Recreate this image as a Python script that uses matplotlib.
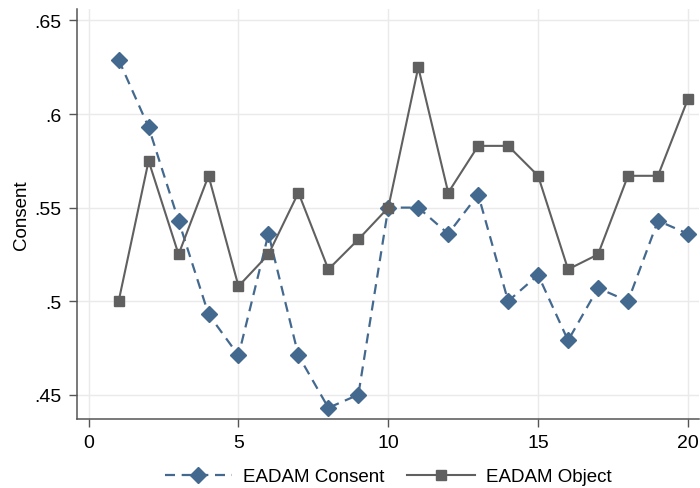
import numpy as np
import matplotlib
matplotlib.use("Agg")
import matplotlib.pyplot as plt
from matplotlib.ticker import FuncFormatter

plt.rcParams["font.family"] = ["Liberation Sans", "DejaVu Sans"]

rounds = np.arange(1, 21)
consent = [0.629, 0.593, 0.543, 0.493, 0.471, 0.536, 0.471, 0.443, 0.450, 0.550,
           0.550, 0.536, 0.557, 0.500, 0.514, 0.479, 0.507, 0.500, 0.543, 0.536]
obj = [0.500, 0.575, 0.525, 0.567, 0.508, 0.525, 0.558, 0.517, 0.533, 0.550,
       0.625, 0.558, 0.583, 0.583, 0.567, 0.517, 0.525, 0.567, 0.567, 0.608]

xticks = [0, 5, 10, 15, 20]
yticks = [0.45, 0.5, 0.55, 0.6, 0.65]

fig = plt.figure(figsize=(7, 4.89), dpi=100)
ax = fig.add_axes([0.11, 0.141, 0.889, 0.838])

blue = "#44698f"
grey = "#606060"

ax.plot(rounds, consent, color=blue, ls=(0, (4.5, 3)), lw=1.6, marker="D",
        ms=8, mec=blue, mfc=blue, label="EADAM Consent", zorder=3)
ax.plot(rounds, obj, color=grey, ls="-", lw=1.5, marker="s",
        ms=7.5, mec=grey, mfc=grey, label="EADAM Object", zorder=3)

ax.set_xlim(-0.39, 20.38)
ax.set_ylim(0.437, 0.656)
ax.set_xticks(xticks)
ax.set_yticks(yticks)
ax.yaxis.set_major_formatter(FuncFormatter(lambda v, p: ("%g" % v).lstrip("0")))
ax.grid(True, color="#eaeaea", lw=1.0, zorder=0)
ax.set_axisbelow(True)

for s in ["top", "right"]:
    ax.spines[s].set_visible(False)
for s in ["left", "bottom"]:
    ax.spines[s].set_color("#555555")
    ax.spines[s].set_linewidth(1.1)
ax.tick_params(direction="out", length=6, width=1, color="#555555",
               labelsize=14, pad=5)
ax.set_ylabel("Consent", fontsize=13.5)
ax.yaxis.set_label_coords(-0.076, 0.5)

ax.legend(loc="center", bbox_to_anchor=(0.5, -0.141), ncol=2, frameon=False,
          fontsize=13.5, handlelength=3.6, columnspacing=1.2, handletextpad=0.6)

fig.savefig("out.png", dpi=100)
